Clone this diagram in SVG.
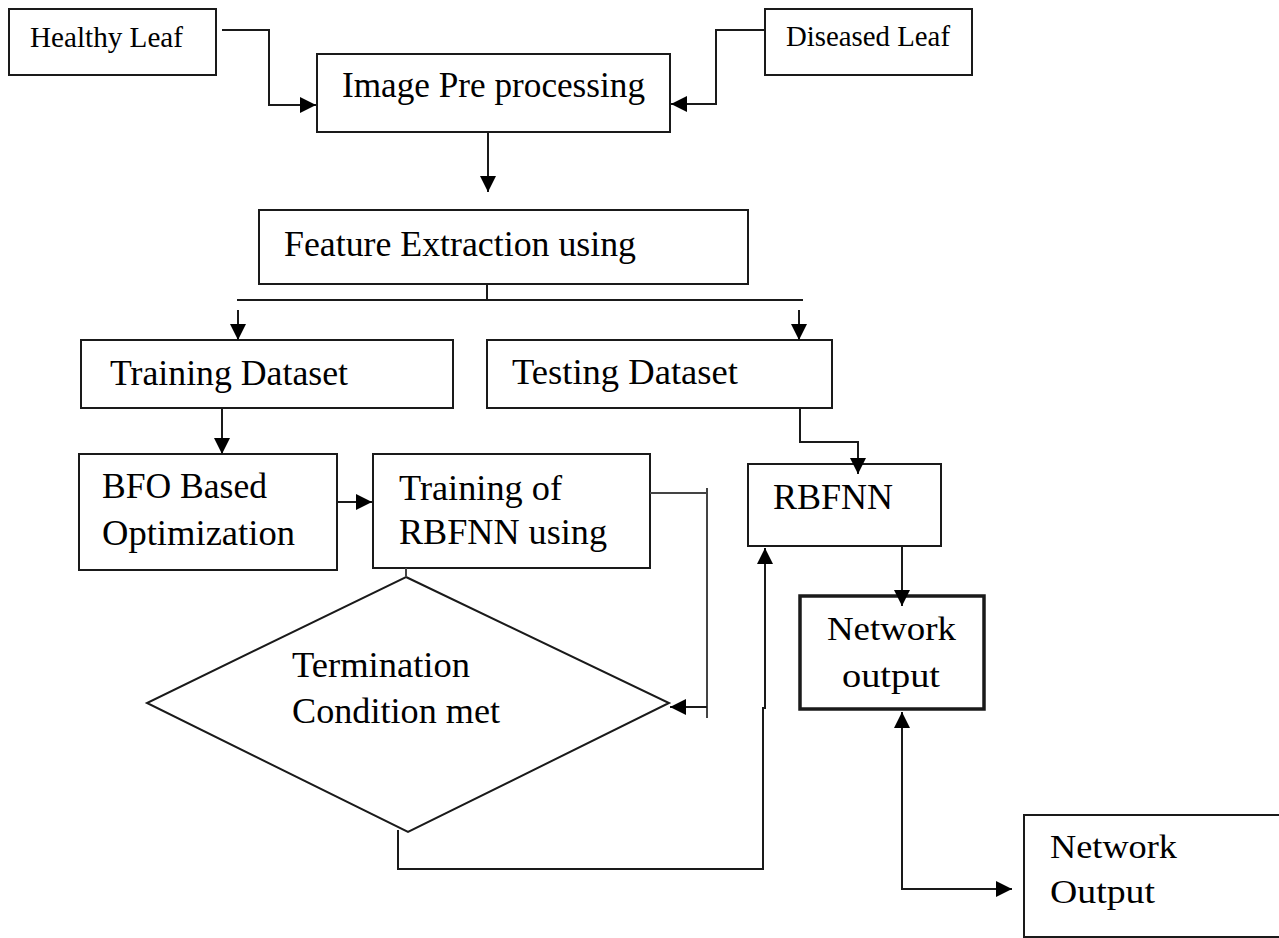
<svg xmlns="http://www.w3.org/2000/svg" width="1279" height="938" viewBox="0 0 1279 938">
<style>
.box{fill:#fff;stroke:#1a1a1a;stroke-width:2}
.thick{fill:#fff;stroke:#1a1a1a;stroke-width:3.5}
.t{font-family:"Liberation Serif","Times New Roman",serif;font-size:35px;fill:#000}
.s{font-size:29px}
.n{font-size:33px}
.c{fill:none;stroke:#1a1a1a;stroke-width:2}
.g{fill:none;stroke:#444;stroke-width:2}
</style>
<defs>
<marker id="ah" viewBox="0 0 10 10" refX="10" refY="5" markerWidth="17" markerHeight="16" markerUnits="userSpaceOnUse" orient="auto-start-reverse">
<path d="M0,0 L10,5 L0,10 z" fill="#000"/>
</marker>
</defs>
<rect width="1279" height="938" fill="#fff"/>

<g id="healthy-leaf">
<rect class="box" x="9" y="9" width="207" height="66"/>
<text class="t s" x="30" y="47" textLength="153" lengthAdjust="spacingAndGlyphs">Healthy Leaf</text>
</g>
<g id="diseased-leaf">
<rect class="box" x="765" y="9" width="207" height="66"/>
<text class="t s" x="786" y="46" textLength="164" lengthAdjust="spacingAndGlyphs">Diseased Leaf</text>
</g>
<g id="image-preprocessing">
<rect class="box" x="317" y="54" width="353" height="78"/>
<text class="t" x="342" y="97" textLength="303" lengthAdjust="spacingAndGlyphs">Image Pre processing</text>
</g>
<g id="feature-extraction">
<rect class="box" x="259" y="210" width="489" height="74"/>
<text class="t" x="284" y="256" textLength="352" lengthAdjust="spacingAndGlyphs">Feature Extraction using</text>
</g>
<g id="training-dataset">
<rect class="box" x="81" y="340" width="372" height="68"/>
<text class="t" x="110" y="385" textLength="238" lengthAdjust="spacingAndGlyphs">Training Dataset</text>
</g>
<g id="testing-dataset">
<rect class="box" x="487" y="340" width="345" height="68"/>
<text class="t" x="512" y="384" textLength="226" lengthAdjust="spacingAndGlyphs">Testing Dataset</text>
</g>
<g id="bfo-optimization">
<rect class="box" x="79" y="454" width="258" height="116"/>
<text class="t" x="102" y="498" textLength="165" lengthAdjust="spacingAndGlyphs">BFO Based</text>
<text class="t" x="102" y="545" textLength="193" lengthAdjust="spacingAndGlyphs">Optimization</text>
</g>
<g id="training-rbfnn">
<rect class="box" x="373" y="454" width="277" height="114"/>
<text class="t" x="399" y="500" textLength="163" lengthAdjust="spacingAndGlyphs">Training of</text>
<text class="t" x="399" y="544" textLength="208" lengthAdjust="spacingAndGlyphs">RBFNN using</text>
</g>
<g id="termination">
<polygon class="box" points="406,577 669,703 408,832 147,703"/>
<text class="t" x="292" y="677" textLength="178" lengthAdjust="spacingAndGlyphs">Termination</text>
<text class="t" x="292" y="723" textLength="208" lengthAdjust="spacingAndGlyphs">Condition met</text>
</g>
<g id="rbfnn">
<rect class="box" x="748" y="464" width="193" height="82"/>
<text class="t" x="773" y="509" textLength="120" lengthAdjust="spacingAndGlyphs">RBFNN</text>
</g>
<g id="network-output">
<rect class="thick" x="800" y="596" width="184" height="113"/>
<text class="t n" x="827" y="640" textLength="129" lengthAdjust="spacingAndGlyphs">Network</text>
<text class="t n" x="842" y="687" textLength="98" lengthAdjust="spacingAndGlyphs">output</text>
</g>
<g id="network-output-final">
<rect class="box" x="1024" y="815" width="270" height="122"/>
<text class="t n" x="1050" y="858" textLength="127" lengthAdjust="spacingAndGlyphs">Network</text>
<text class="t n" x="1050" y="903" textLength="105" lengthAdjust="spacingAndGlyphs">Output</text>
</g>

<g id="connectors">
<path class="c" d="M222,30 H269 V105 H316" marker-end="url(#ah)"/>
<path class="c" d="M765,30 H716 V104 H671" marker-end="url(#ah)"/>
<path class="c" d="M488,132 V192" marker-end="url(#ah)"/>
<path class="c" d="M487,284 V300 M237,300 H803"/>
<path class="c" d="M238,310 V340" marker-end="url(#ah)"/>
<path class="c" d="M799,310 V340" marker-end="url(#ah)"/>
<path class="c" d="M222,408 V454" marker-end="url(#ah)"/>
<path class="c" d="M337,502 H372" marker-end="url(#ah)"/>
<path class="g" d="M650,493 H707 M707,488 V718"/>
<path class="c" d="M707,707 H670" marker-end="url(#ah)"/>
<path class="g" d="M406,568 V577"/>
<path class="c" d="M398,830 V869 H763 V708 H765 V548" marker-end="url(#ah)"/>
<path class="c" d="M800,408 V442 H858 V474" marker-end="url(#ah)"/>
<path class="c" d="M902,546 V606" marker-end="url(#ah)"/>
<path class="c" d="M902,712 V889 H1012" marker-start="url(#ah)" marker-end="url(#ah)"/>
</g>
</svg>
